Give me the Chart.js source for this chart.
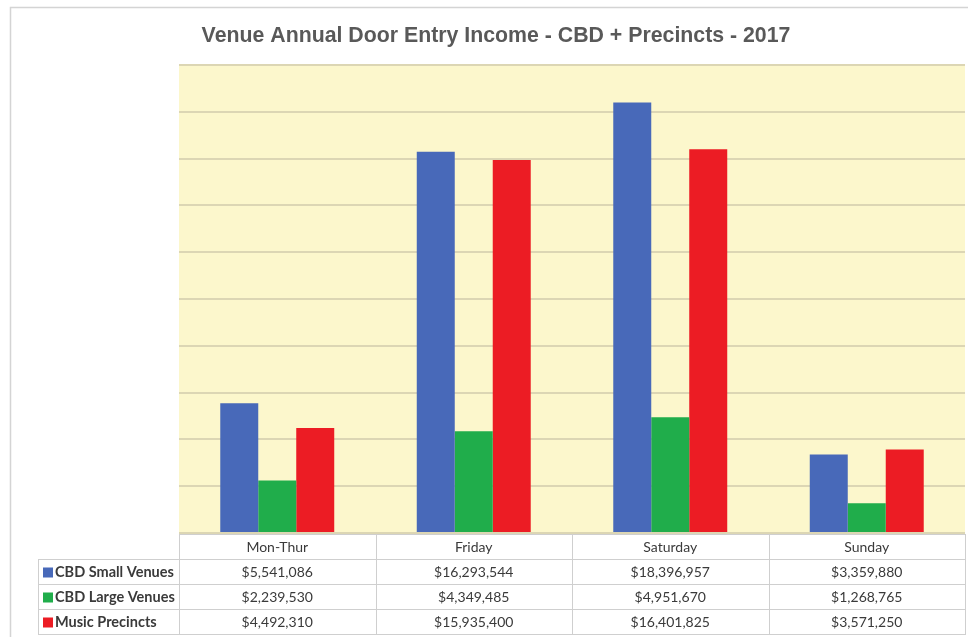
<!DOCTYPE html>
<html lang="en">
<head>
    <meta charset="UTF-8">
    <title>Venue Annual Door Entry Income</title>
    <script src="https://cdn.jsdelivr.net/npm/chart.js"></script>
    <style>
        body { margin: 0; background: #fff; }
        #wrap { width: 968px; height: 637px; }
    </style>
</head>
<body>
    <div id="wrap"><canvas id="doorChart" width="968" height="637"></canvas></div>

    <script>
        const days = ['Mon-Thur', 'Friday', 'Saturday', 'Sunday'];
        const seriesNames = ['CBD Small Venues', 'CBD Large Venues', 'Music Precincts'];
        const smallVenues = [5541086, 16293544, 18396957, 3359880];
        const largeVenues = [2239530, 4349485, 4951670, 1268765];
        const musicPrecincts = [4492310, 15935400, 16401825, 3571250];
        const seriesColors = ['#4869b9', '#20ad4b', '#ec1c24'];

        const chartTitle = 'Venue Annual Door Entry Income - CBD + Precincts - 2017';

        function money(v) {
            return '$' + v.toLocaleString('en-US');
        }

        // pale yellow plot background + outer frame + title
        const backdrop = {
            id: 'backdrop',
            beforeDraw(chart) {
                const ctx = chart.ctx;
                const a = chart.chartArea;
                ctx.save();
                ctx.strokeStyle = '#d4d4d4';
                ctx.lineWidth = 1.5;
                ctx.strokeRect(10.5, 7.5, 1000, 700);
                ctx.fillStyle = '#fcf7cc';
                ctx.fillRect(a.left, a.top, a.right - a.left, a.bottom - a.top);
                ctx.fillStyle = '#595959';
                ctx.font = 'bold 21.3px "Liberation Sans", Arial, sans-serif';
                ctx.textAlign = 'center';
                ctx.textBaseline = 'middle';
                ctx.fillText(chartTitle, 496, 36);
                ctx.restore();
            }
        };

        // data table under the bars, columns follow the x scale
        const dataTable = {
            id: 'dataTable',
            afterDraw(chart) {
                const ctx = chart.ctx;
                const a = chart.chartArea;
                const xs = chart.scales.x;
                const colW = (a.right - a.left) / days.length;
                const rowH = 25;
                const top = a.bottom + 1;
                const legendLeft = 38;
                const rows = [smallVenues, largeVenues, musicPrecincts];

                ctx.save();
                ctx.strokeStyle = '#cfcfcf';
                ctx.lineWidth = 1;

                // header row
                ctx.strokeRect(a.left + 0.5, top + 0.5, a.right - a.left, rowH);
                for (let i = 1; i < days.length; i++) {
                    const x = Math.round(a.left + i * colW) + 0.5;
                    ctx.beginPath();
                    ctx.moveTo(x, top);
                    ctx.lineTo(x, top + rowH * 4);
                    ctx.stroke();
                }
                // body rows
                for (let r = 0; r < rows.length; r++) {
                    const y = top + rowH * (r + 1);
                    ctx.strokeRect(legendLeft + 0.5, y + 0.5, a.right - legendLeft, rowH);
                }
                ctx.beginPath();
                ctx.moveTo(a.left + 0.5, top + rowH);
                ctx.lineTo(a.left + 0.5, top + rowH * 4);
                ctx.stroke();

                ctx.textBaseline = 'middle';
                ctx.fillStyle = '#3a3a3a';
                ctx.textAlign = 'center';
                ctx.font = '14px Lato, "Open Sans", sans-serif';
                days.forEach((d, i) => {
                    ctx.fillText(d, xs.getPixelForValue(i), top + rowH / 2 + 1);
                });

                rows.forEach((vals, r) => {
                    const cy = top + rowH * (r + 1) + rowH / 2 + 1;
                    ctx.fillStyle = seriesColors[r];
                    ctx.fillRect(legendLeft + 5, cy - 5, 10, 10);
                    ctx.fillStyle = '#3a3a3a';
                    ctx.textAlign = 'left';
                    ctx.font = 'bold 14.5px Lato, "Open Sans", sans-serif';
                    ctx.fillText(seriesNames[r], legendLeft + 17, cy);
                    ctx.textAlign = 'center';
                    ctx.font = '14px Lato, "Open Sans", sans-serif';
                    vals.forEach((v, i) => {
                        ctx.fillText(money(v), xs.getPixelForValue(i), cy);
                    });
                });
                ctx.restore();
            }
        };

        new Chart(document.getElementById('doorChart'), {
            type: 'bar',
            data: {
                labels: days,
                datasets: [
                    { label: seriesNames[0], data: smallVenues, backgroundColor: seriesColors[0] },
                    { label: seriesNames[1], data: largeVenues, backgroundColor: seriesColors[1] },
                    { label: seriesNames[2], data: musicPrecincts, backgroundColor: seriesColors[2] }
                ]
            },
            options: {
                responsive: false,
                animation: false,
                layout: { padding: { left: 179, right: 3, top: 65, bottom: 104 } },
                datasets: { bar: { categoryPercentage: 0.58, barPercentage: 1.0 } },
                plugins: {
                    legend: { display: false },
                    tooltip: { enabled: false }
                },
                scales: {
                    x: {
                        display: false,
                        grid: { display: false }
                    },
                    y: {
                        min: 0,
                        max: 20000000,
                        ticks: { display: false, stepSize: 2000000 },
                        grid: { color: '#dcd6b4', lineWidth: 2, drawTicks: false },
                        border: { display: false },
                        afterFit(scale) { scale.width = 0; }
                    }
                }
            },
            plugins: [backdrop, dataTable]
        });
    </script>
</body>
</html>
